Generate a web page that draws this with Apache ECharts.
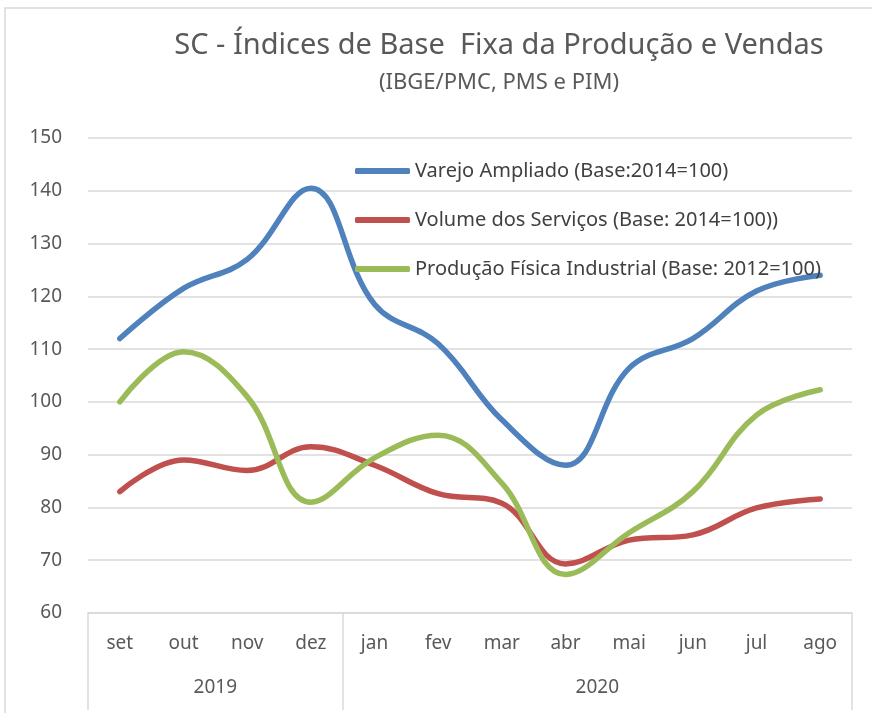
<!DOCTYPE html>
<html>
<head>
    <meta charset="utf-8" />
    <title>SC - Índices de Base Fixa</title>
    <script src="https://cdn.jsdelivr.net/npm/echarts@6/dist/echarts.min.js"></script>
    <style>
        html, body { margin: 0; padding: 0; background: #fff; }
        #chart { width: 872px; height: 713px; }
    </style>
</head>
<body>
    <div id="chart"></div>
    <script type="text/javascript">
        var meses = ['set', 'out', 'nov', 'dez', 'jan', 'fev', 'mar', 'abr', 'mai', 'jun', 'jul', 'ago'];
        var anos = ['2019', '2020'];
        // posição do rótulo do ano (meio do grupo) e das divisões entre grupos
        var anoCentro = [2, 8];
        var anoDivisao = [0, 4, 12];
        var varejo = [112, 121.5, 127, 140.5, 118.5, 111, 96.6, 88, 106.4, 112, 121, 124];
        var servicos = [83, 89, 87, 91.5, 88, 82.6, 80.8, 69.3, 73.8, 74.8, 79.9, 81.6];
        var producao = [100, 109.5, 101, 81, 89.4, 93.7, 84.6, 67.3, 75.2, 83, 97.5, 102.3];
        var yTicks = [60, 150, 10];

        var chart = echarts.init(document.getElementById('chart'));
        var fonte = 'Noto Sans';
        var option = {
            animation: false,
            textStyle: { fontFamily: fonte },
            graphic: [{
                type: 'rect',
                shape: { x: 5, y: 8, width: 900, height: 760 },
                style: { fill: 'none', stroke: '#d9d9d9', lineWidth: 1.5 },
                silent: true
            }],
            title: {
                text: 'SC - Índices de Base  Fixa da Produção e Vendas',
                subtext: '(IBGE/PMC, PMS e PIM)',
                left: 494,
                textAlign: 'center',
                top: 26,
                itemGap: 12,
                textStyle: { fontFamily: fonte, fontSize: 29, fontWeight: 'normal', color: '#595959' },
                subtextStyle: { fontFamily: fonte, fontSize: 22, color: '#595959' }
            },
            legend: {
                orient: 'vertical',
                left: 350,
                top: 156,
                itemGap: 29,
                itemWidth: 55,
                itemHeight: 6,
                icon: 'roundRect',
                textStyle: { fontFamily: fonte, fontSize: 20, color: '#404040' },
                data: ['Varejo Ampliado (Base:2014=100)', 'Volume dos Serviços (Base: 2014=100))', 'Produção Física Industrial (Base: 2012=100)']
            },
            grid: { left: 88, right: 20, top: 138, bottom: 100, containLabel: false },
            xAxis: [{
                type: 'category',
                data: meses,
                boundaryGap: true,
                axisLine: { show: true, lineStyle: { color: '#d9d9d9', width: 1.5 } },
                axisTick: { show: false },
                axisLabel: { fontFamily: fonte, fontSize: 19, color: '#595959', margin: 21 }
            }, {
                type: 'value',
                position: 'bottom',
                min: 0,
                max: 12,
                axisLine: { show: false },
                splitLine: { show: false },
                axisTick: {
                    show: true,
                    customValues: anoDivisao,
                    length: 97,
                    lineStyle: { color: '#d9d9d9', width: 1.5 }
                },
                axisLabel: {
                    customValues: anoCentro,
                    fontFamily: fonte,
                    fontSize: 19,
                    color: '#595959',
                    margin: 65,
                    formatter: function (v) { return anos[anoCentro.indexOf(v)] || ''; }
                }
            }],
            yAxis: {
                type: 'value',
                min: yTicks[0],
                max: yTicks[1],
                interval: yTicks[2],
                axisLine: { show: false },
                axisTick: { show: false },
                splitLine: { lineStyle: { color: '#d9d9d9', width: 1.5 } },
                axisLabel: { fontFamily: fonte, fontSize: 19, color: '#595959', margin: 26 }
            },
            series: [{
                name: 'Varejo Ampliado (Base:2014=100)',
                type: 'line',
                smooth: 0.4,
                symbol: 'none',
                color: '#4F81BD',
                lineStyle: { width: 5.5, cap: 'round' },
                data: varejo
            }, {
                name: 'Volume dos Serviços (Base: 2014=100))',
                type: 'line',
                smooth: 0.4,
                symbol: 'none',
                color: '#C0504D',
                lineStyle: { width: 5.5, cap: 'round' },
                data: servicos
            }, {
                name: 'Produção Física Industrial (Base: 2012=100)',
                type: 'line',
                smooth: 0.4,
                symbol: 'none',
                color: '#9BBB59',
                lineStyle: { width: 5.5, cap: 'round' },
                data: producao
            }]
        };
        chart.setOption(option);
    </script>
</body>
</html>
